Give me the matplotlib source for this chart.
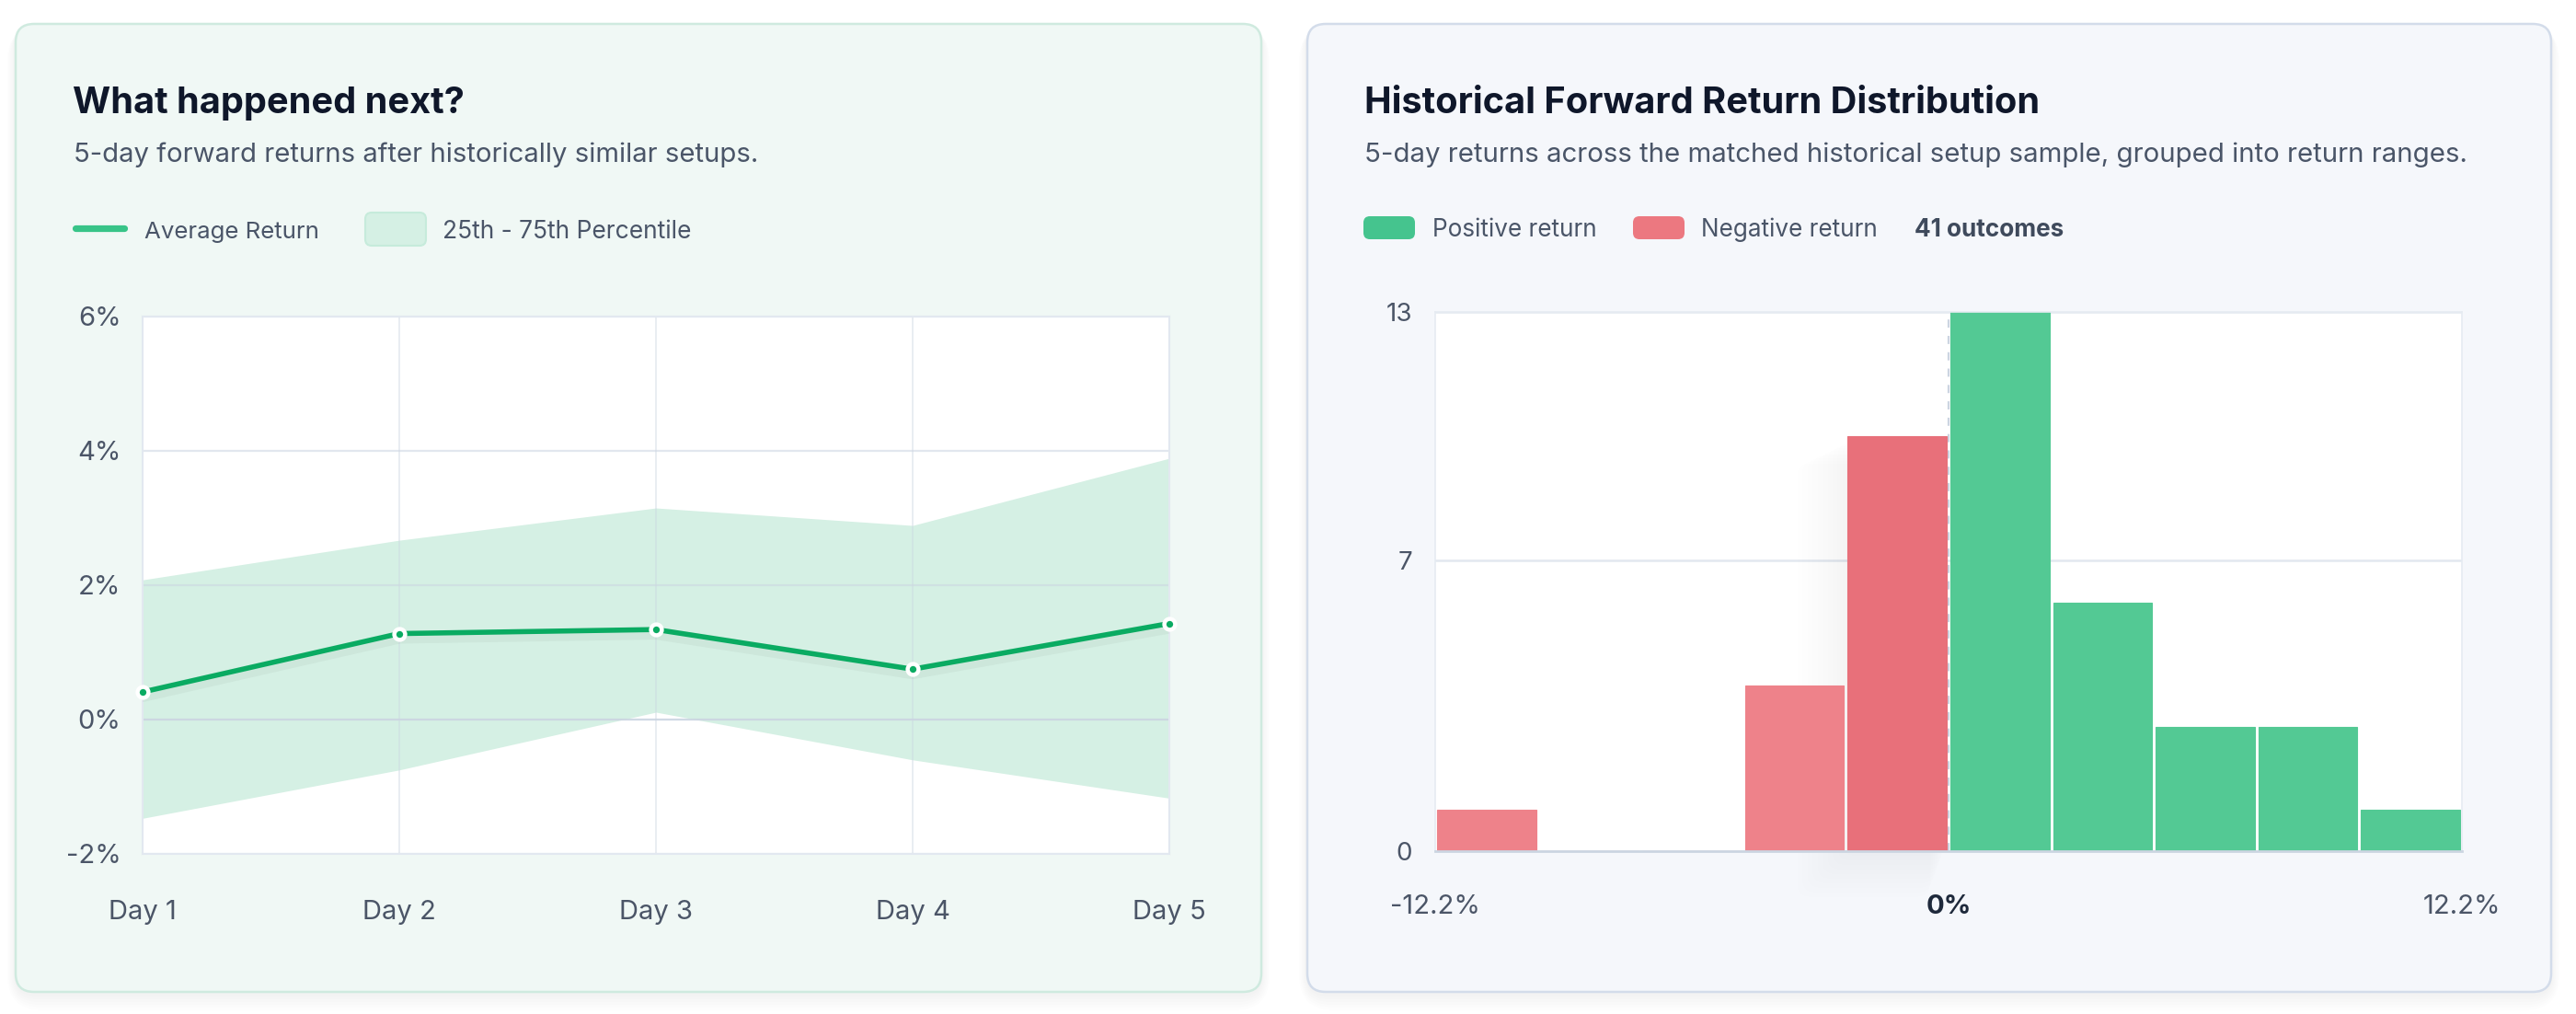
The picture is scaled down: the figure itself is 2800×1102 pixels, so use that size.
import matplotlib
matplotlib.use("Agg")
import matplotlib.pyplot as plt
import matplotlib.transforms as mtransforms
from matplotlib.patches import FancyBboxPatch
import numpy as np

plt.rcParams['font.family'] = ['Inter', 'DejaVu Sans']

# ---- data: left chart (5-day forward returns, %)
days = ['Day 1', 'Day 2', 'Day 3', 'Day 4', 'Day 5']
avg_return = [0.41, 1.28, 1.34, 0.75, 1.43]
p75 = [2.08, 2.67, 3.15, 2.89, 3.89]
p25 = [-1.47, -0.75, 0.11, -0.60, -1.17]
left_yticks = [-2, 0, 2, 4, 6]

# ---- data: right chart (histogram of 5-day returns, %)
bin_edges = [-12.2, -9.76, -7.32, -4.88, -2.44, 0.0, 2.44, 4.88, 7.32, 9.76, 12.2]
bin_counts = [1, 0, 0, 4, 10, 13, 6, 3, 3, 1]
right_yticks = [0, 7, 13]
right_xticks = [-12.2, 0, 12.2]
right_xticklabels = ['-12.2%', '0%', '12.2%']
hover_bin = 4

W, H = 2800, 1102
fig = plt.figure(figsize=(W / 100, H / 100), dpi=100)
fig.patch.set_facecolor('white')

TITLE = '#0f172a'
SUB = '#4a5568'
TICK = '#4b5567'
GREEN_LINE = '#0aab62'
BAND = '#d5f0e4'
POS = '#53c994'
NEG = '#ee828a'
NEG_HOVER = '#e8707a'


def px_axes(x, y, w, h):
    # pixel box (from top-left) -> figure fraction
    return fig.add_axes([x / W, 1 - (y + h) / H, w / W, h / H])


# background layer in pixel coordinates
bg = fig.add_axes([0, 0, 1, 1])
bg.set_xlim(0, W)
bg.set_ylim(H, 0)
bg.axis('off')


def card(x0, x1, y0, y1, face, edge):
    for k in range(6):
        g = 3 + k * 3
        bg.add_patch(FancyBboxPatch((x0 - g * 0.5, y0 + 2), (x1 - x0) + g, (y1 - y0) + g,
                                    boxstyle='round,pad=0,rounding_size=%d' % (20 + g),
                                    fc='black', ec='none', alpha=0.008))
    bg.add_patch(FancyBboxPatch((x0, y0), x1 - x0, y1 - y0,
                                boxstyle='round,pad=0,rounding_size=20',
                                fc=face, ec=edge, lw=1.8))


card(17, 1371, 26, 1078, '#f0f8f5', '#cfeadf')
card(1421, 2773, 26, 1078, '#f5f7fb', '#d3dcea')

# titles and subtitles
bg.text(79, 123, 'What happened next?', fontsize=28.6, fontweight='bold', color=TITLE, va='baseline')
bg.text(80, 176, '5-day forward returns after historically similar setups.', fontsize=21.1,
        color=SUB, va='baseline')
bg.text(1483, 123, 'Historical Forward Return Distribution', fontsize=28.6, fontweight='bold',
        color=TITLE, va='baseline')
bg.text(1483, 176, '5-day returns across the matched historical setup sample, grouped into return ranges.',
        fontsize=21.2, color=SUB, va='baseline')

# left legend
bg.plot([82, 135], [248, 248], color='#38c488', lw=5.2, solid_capstyle='round')
bg.text(157, 259, 'Average Return', fontsize=18.6, color=SUB, va='baseline')
bg.add_patch(FancyBboxPatch((397, 231), 66, 36, boxstyle='round,pad=0,rounding_size=7',
                            fc=BAND, ec='#c6ebdb', lw=1.5))
bg.text(481, 259, '25th - 75th Percentile', fontsize=19, color=SUB, va='baseline')

# right legend
bg.add_patch(FancyBboxPatch((1482, 235), 56, 25, boxstyle='round,pad=0,rounding_size=7',
                            fc='#45c48e', ec='none'))
bg.text(1557, 257, 'Positive return', fontsize=18.8, color=SUB, va='baseline')
bg.add_patch(FancyBboxPatch((1775, 235), 56, 25, boxstyle='round,pad=0,rounding_size=7',
                            fc='#ec7880', ec='none'))
bg.text(1849, 257, 'Negative return', fontsize=18.8, color=SUB, va='baseline')
bg.text(2081, 257, '41 outcomes', fontsize=18.8, fontweight='bold', color='#3f4a5c', va='baseline')

# ---------------- left chart ----------------
ax1 = px_axes(155, 344, 1116, 584)
ax1.set_facecolor('white')
x = np.arange(len(days))
ax1.fill_between(x, p25, p75, color=BAND, lw=0, zorder=1)
for v in left_yticks:
    ax1.axhline(v, color='#cbd5e1', alpha=0.55 if v != 0 else 0.9, lw=1.6, zorder=2)
for xi in x:
    ax1.axvline(xi, color='#cbd5e1', alpha=0.45, lw=1.3, zorder=2)

shadow = mtransforms.offset_copy(ax1.transData, fig=fig, x=0, y=-4, units='dots')
ax1.plot(x, avg_return, color='black', lw=10, alpha=0.035, transform=shadow, zorder=3,
         solid_capstyle='round', solid_joinstyle='round')
ax1.plot(x, avg_return, color=GREEN_LINE, lw=4, zorder=4, solid_joinstyle='round',
         marker='o', markersize=8.5, markerfacecolor=GREEN_LINE, markeredgecolor='white',
         markeredgewidth=3.2, clip_on=False)

ax1.set_xlim(0, len(days) - 1)
ax1.set_ylim(-2, 6)
ax1.set_xticks(x)
ax1.set_xticklabels(days)
ax1.set_yticks(left_yticks)
ax1.set_yticklabels(['%d%%' % v for v in left_yticks])
ax1.tick_params(axis='x', length=0, pad=36, labelsize=21, labelcolor=TICK)
ax1.tick_params(axis='y', length=0, pad=17, labelsize=21, labelcolor=TICK)
for s in ax1.spines.values():
    s.set_color('#e2e8f0')
    s.set_linewidth(1.5)

# ---------------- right chart ----------------
ax2 = px_axes(1560, 339, 1116, 586)
ax2.set_facecolor('white')
for v in right_yticks[1:]:
    ax2.axhline(v, color='#e2e8f0', lw=1.8, zorder=1)
ax2.axvline(0, color='#cbd5e1', lw=1.6, ls=(0, (4, 4)), zorder=1)

lefts = np.array(bin_edges[:-1])
widths = np.diff(bin_edges)
gap = 0.09
colors = []
for i in range(len(bin_counts)):
    if i == hover_bin:
        colors.append(NEG_HOVER)
    elif lefts[i] < 0:
        colors.append(NEG)
    else:
        colors.append(POS)

# soft hover shadow behind the highlighted bar
hx = lefts[hover_bin] + gap / 2
hw = widths[hover_bin] - gap
for k in range(10):
    g = 0.1 * (k + 1)
    ax2.add_patch(FancyBboxPatch((hx - g * 1.2, -0.11 * (k + 1)), hw + g * 0.8,
                                 bin_counts[hover_bin] + 0.05 * k,
                                 boxstyle='round,pad=0,rounding_size=0.3',
                                 fc='black', ec='none', alpha=0.005, zorder=1.5, clip_on=False))

ax2.bar(lefts + gap / 2, bin_counts, width=widths - gap, align='edge', color=colors,
        edgecolor=colors, lw=0.8, zorder=2)

ax2.set_xlim(bin_edges[0], bin_edges[-1])
ax2.set_ylim(0, 13)
ax2.set_yticks(right_yticks)
ax2.set_xticks(right_xticks)
ax2.set_xticklabels(right_xticklabels)
ax2.tick_params(axis='x', length=0, pad=34, labelsize=21, labelcolor=TICK)
ax2.tick_params(axis='y', length=0, pad=18, labelsize=20, labelcolor=TICK)
zero_lbl = ax2.get_xticklabels()[1]
zero_lbl.set_fontweight('bold')
zero_lbl.set_color('#1e293b')
for name, s in ax2.spines.items():
    s.set_color('#e6ebf2')
    s.set_linewidth(1.2)
ax2.spines['bottom'].set_color('#cbd5e1')
ax2.spines['bottom'].set_linewidth(2)

fig.savefig('out.png', dpi=100)
